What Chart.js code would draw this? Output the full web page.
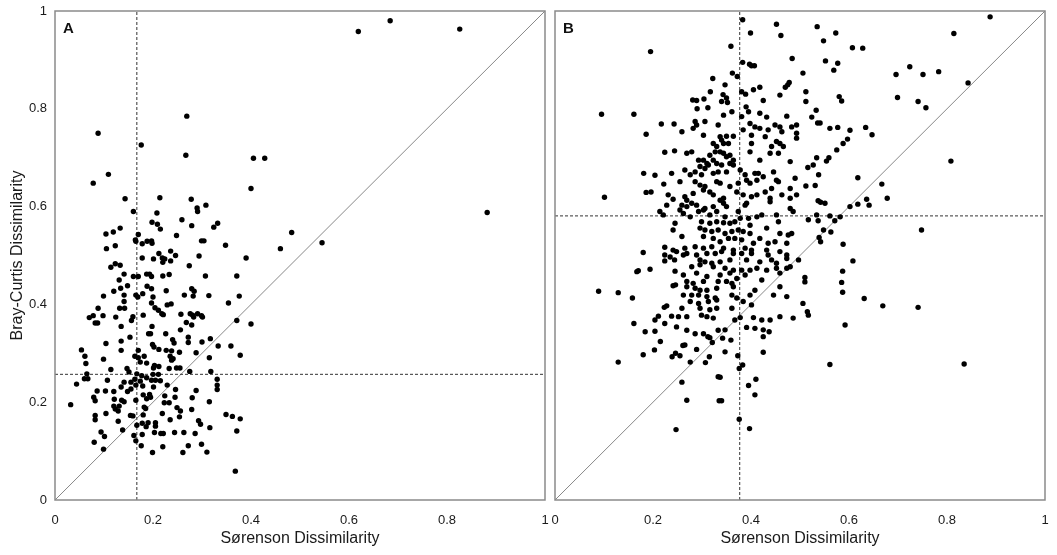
<!DOCTYPE html>
<html>
<head>
<meta charset="utf-8">
<script src="https://cdn.jsdelivr.net/npm/chart.js@4.4.1/dist/chart.umd.min.js"></script>
<style>
    html, body { margin: 0; padding: 0; background: #fff; overflow: hidden; }
    #wrapA { position: absolute; left: 0; top: 0; width: 550px; height: 555px; }
    #wrapB { position: absolute; left: 550px; top: 0; width: 507px; height: 555px; }
</style>
</head>
<body>
<div id="wrapA"><canvas id="chartA"></canvas></div>
<div id="wrapB"><canvas id="chartB"></canvas></div>
<script>
// Etiquetas de los ejes
const tickLabels = ['0', '0.2', '0.4', '0.6', '0.8', '1'];
const xTitle = 'Sørenson Dissimilarity';
const yTitle = 'Bray-Curtis Dissimilarity';

// Medias (líneas discontinuas) por panel: [Sørenson, Bray-Curtis]
const meanA = [0.167, 0.257];
const meanB = [0.377, 0.581];

// Panel A: [Sørenson, Bray-Curtis]
const panelA = [
    [0.269,0.785],[0.088,0.750],[0.176,0.726],[0.267,0.705],[0.109,0.666],[0.078,0.648],[0.214,0.618],[0.143,0.616],
    [0.278,0.615],[0.308,0.603],[0.290,0.597],[0.291,0.590],[0.160,0.590],[0.208,0.587],[0.259,0.573],[0.198,0.568],
    [0.209,0.564],[0.332,0.566],[0.324,0.558],[0.279,0.561],[0.215,0.554],[0.133,0.556],[0.119,0.548],[0.104,0.544],
    [0.170,0.543],[0.248,0.541],[0.164,0.532],[0.165,0.529],[0.188,0.529],[0.197,0.530],[0.198,0.525],[0.178,0.524],
    [0.299,0.530],[0.304,0.530],[0.348,0.521],[0.123,0.520],[0.105,0.514],[0.236,0.509],[0.212,0.504],[0.246,0.500],
    [0.294,0.499],[0.219,0.495],[0.178,0.495],[0.201,0.493],[0.224,0.493],[0.220,0.486],[0.236,0.489],[0.390,0.495],
    [0.123,0.483],[0.133,0.480],[0.114,0.476],[0.274,0.479],[0.141,0.462],[0.160,0.457],[0.170,0.457],[0.187,0.462],
    [0.193,0.462],[0.197,0.457],[0.220,0.458],[0.233,0.461],[0.307,0.458],[0.371,0.458],[0.131,0.450],[0.148,0.438],
    [0.134,0.433],[0.188,0.437],[0.197,0.432],[0.120,0.427],[0.227,0.428],[0.279,0.432],[0.284,0.427],[0.099,0.417],
    [0.141,0.419],[0.165,0.419],[0.179,0.422],[0.169,0.415],[0.200,0.415],[0.264,0.419],[0.282,0.417],[0.314,0.418],
    [0.376,0.417],
    [0.619,0.958],[0.684,0.980],[0.826,0.963],[0.405,0.699],[0.428,0.699],[0.400,0.637],[0.882,0.588],[0.483,0.547],
    [0.460,0.514],[0.545,0.526],[0.400,0.360],
    [0.141,0.406],[0.197,0.403],[0.237,0.401],[0.229,0.399],[0.354,0.403],[0.132,0.392],[0.142,0.392],[0.088,0.392],
    [0.204,0.393],[0.211,0.388],[0.218,0.381],[0.221,0.379],[0.257,0.380],[0.276,0.381],[0.281,0.378],[0.291,0.381],
    [0.299,0.377],[0.283,0.374],[0.301,0.374],[0.371,0.367],[0.070,0.373],[0.078,0.377],[0.098,0.377],[0.124,0.374],
    [0.159,0.375],[0.156,0.367],[0.180,0.378],[0.082,0.362],[0.087,0.362],[0.268,0.363],[0.279,0.358],[0.198,0.355],
    [0.135,0.355],[0.256,0.348],[0.191,0.340],[0.195,0.340],[0.226,0.340],[0.153,0.333],[0.272,0.333],[0.240,0.328],
    [0.243,0.321],[0.317,0.330],[0.272,0.322],[0.300,0.323],[0.135,0.325],[0.104,0.320],[0.199,0.318],[0.212,0.308],
    [0.202,0.313],[0.333,0.315],[0.359,0.315],[0.054,0.307],[0.135,0.306],[0.170,0.306],[0.227,0.306],[0.238,0.305],
    [0.254,0.302],[0.288,0.301],[0.061,0.294],[0.099,0.288],[0.163,0.294],[0.182,0.294],[0.170,0.291],[0.235,0.294],
    [0.238,0.286],[0.241,0.289],[0.315,0.291],[0.378,0.296],[0.063,0.279],[0.174,0.282],[0.187,0.280],[0.203,0.275],
    [0.212,0.273],[0.201,0.270],[0.147,0.269],[0.114,0.267],[0.151,0.262],[0.233,0.269],[0.248,0.270],[0.255,0.270],
    [0.275,0.263],[0.318,0.263],[0.065,0.258],[0.167,0.258],[0.177,0.254],[0.200,0.257],[0.211,0.257],[0.187,0.250],
    [0.060,0.248],[0.067,0.248],[0.163,0.247],[0.107,0.245],[0.331,0.247],[0.141,0.241],[0.155,0.241],[0.174,0.243],
    [0.197,0.245],[0.205,0.245],[0.215,0.244],[0.135,0.231],[0.044,0.237],[0.165,0.235],[0.179,0.233],[0.201,0.231],
    [0.229,0.235],[0.331,0.235],[0.155,0.227],[0.331,0.226],[0.086,0.223],[0.103,0.223],[0.120,0.222],[0.148,0.222],
    [0.180,0.215],[0.193,0.216],[0.246,0.226],[0.224,0.213],[0.288,0.224],[0.079,0.210],[0.121,0.206],[0.136,0.204],
    [0.187,0.207],[0.195,0.210],[0.245,0.210],[0.280,0.209],[0.082,0.203],[0.165,0.204],[0.141,0.201],[0.032,0.195],
    [0.223,0.199],[0.233,0.199],[0.315,0.201],[0.120,0.192],[0.131,0.192],[0.182,0.190],[0.249,0.189],[0.123,0.186],
    [0.185,0.187],[0.279,0.185],[0.129,0.182],[0.104,0.177],[0.219,0.177],[0.256,0.182],[0.082,0.173],[0.154,0.173],
    [0.159,0.172],[0.180,0.174],[0.349,0.175],[0.362,0.171],[0.378,0.166],[0.082,0.164],[0.129,0.161],[0.178,0.157],
    [0.190,0.158],[0.205,0.158],[0.235,0.164],[0.254,0.170],[0.293,0.162],[0.297,0.155],[0.167,0.153],[0.186,0.150],
    [0.205,0.151],[0.316,0.148],[0.138,0.143],[0.094,0.139],[0.203,0.138],[0.216,0.136],[0.221,0.136],[0.244,0.138],
    [0.263,0.138],[0.286,0.136],[0.371,0.141],[0.101,0.130],[0.161,0.132],[0.178,0.134],[0.165,0.121],[0.080,0.118],
    [0.272,0.111],[0.299,0.114],[0.176,0.111],[0.220,0.109],[0.099,0.104],[0.199,0.097],[0.261,0.097],[0.310,0.098],
    [0.368,0.059]
];

// Panel B: [Sørenson, Bray-Curtis]
const panelB = [
    // parte superior izquierda
    [0.195,0.917],[0.095,0.789],[0.161,0.789],[0.322,0.862],[0.317,0.835],[0.281,0.818],[0.289,0.817],[0.304,0.820],
    [0.290,0.800],[0.312,0.802],[0.217,0.769],[0.243,0.769],[0.186,0.748],[0.224,0.711],[0.244,0.714],
    // parte superior central
    [0.383,0.982],[0.452,0.973],[0.399,0.955],[0.461,0.950],[0.535,0.968],[0.573,0.955],[0.548,0.939],[0.607,0.925],
    [0.628,0.924],[0.359,0.928],[0.484,0.903],[0.552,0.898],[0.577,0.893],[0.569,0.879],[0.383,0.895],[0.397,0.891],
    [0.401,0.888],[0.407,0.888],[0.362,0.873],[0.372,0.866],[0.506,0.873],[0.347,0.849],[0.478,0.854],[0.475,0.849],
    [0.470,0.844],[0.405,0.839],[0.418,0.844],[0.381,0.835],[0.389,0.830],[0.512,0.835],[0.459,0.828],[0.343,0.829],
    [0.340,0.815],[0.350,0.822],[0.352,0.813],[0.425,0.817],[0.512,0.815],[0.580,0.825],[0.585,0.816],[0.390,0.804],
    [0.533,0.797],[0.524,0.783],[0.536,0.771],[0.541,0.771],[0.561,0.760],[0.577,0.762],[0.602,0.756],[0.634,0.762],
    [0.647,0.747],[0.597,0.738],[0.588,0.729],[0.575,0.716],[0.534,0.700],[0.554,0.693],[0.559,0.700],[0.516,0.680],
    [0.527,0.685],
    // parte derecha
    [0.888,0.988],[0.814,0.954],[0.724,0.886],[0.696,0.870],[0.751,0.870],[0.783,0.876],[0.843,0.853],[0.699,0.823],
    [0.741,0.815],[0.757,0.802],[0.808,0.693],[0.678,0.617],[0.748,0.552],[0.741,0.394],[0.835,0.278],
    // izquierda media
    [0.181,0.668],[0.204,0.664],[0.238,0.668],[0.222,0.646],[0.101,0.619],[0.186,0.629],[0.196,0.630],[0.231,0.624],
    [0.241,0.615],[0.228,0.603],[0.214,0.590],[0.221,0.583],[0.245,0.566],[0.241,0.552],[0.224,0.517],[0.241,0.511],
    [0.248,0.508],[0.180,0.506],[0.224,0.501],[0.235,0.497],[0.224,0.489],[0.244,0.491],[0.170,0.469],[0.167,0.467],
    [0.194,0.472],[0.245,0.468],[0.241,0.438],[0.246,0.440],[0.089,0.427],[0.129,0.424],[0.158,0.413],[0.228,0.397],
    [0.223,0.394],[0.211,0.376],[0.204,0.368],[0.238,0.376],[0.252,0.375],[0.161,0.361],[0.224,0.361],[0.248,0.354],
    [0.184,0.344],[0.204,0.345],[0.269,0.347],[0.286,0.340],[0.303,0.340],[0.333,0.347],
    // derecha media
    [0.538,0.665],[0.618,0.659],[0.667,0.646],[0.512,0.642],[0.531,0.643],[0.537,0.612],[0.542,0.609],[0.551,0.607],
    [0.636,0.615],[0.641,0.603],[0.618,0.605],[0.602,0.600],[0.534,0.583],[0.561,0.581],[0.582,0.579],[0.517,0.573],
    [0.537,0.571],[0.571,0.571],[0.548,0.552],[0.563,0.548],[0.539,0.537],[0.542,0.528],[0.588,0.523],[0.608,0.489],
    [0.587,0.468],[0.510,0.455],[0.510,0.446],[0.585,0.445],[0.587,0.425],[0.631,0.412],[0.506,0.402],[0.669,0.397],
    [0.515,0.385],[0.517,0.378],[0.592,0.358],[0.391,0.353],[0.408,0.351],[0.425,0.348],[0.437,0.344],[0.347,0.348],
    // núcleo superior
    [0.361,0.794],[0.395,0.794],[0.418,0.791],[0.473,0.785],[0.344,0.787],[0.381,0.784],[0.432,0.783],[0.286,0.774],
    [0.306,0.774],[0.289,0.767],[0.282,0.760],[0.259,0.753],[0.333,0.767],[0.398,0.770],[0.408,0.763],[0.418,0.760],
    [0.449,0.767],[0.459,0.763],[0.483,0.763],[0.493,0.767],[0.384,0.757],[0.435,0.757],[0.463,0.753],[0.303,0.746],
    [0.350,0.744],[0.364,0.744],[0.337,0.743],[0.340,0.736],[0.401,0.746],[0.429,0.743],[0.452,0.733],[0.459,0.729],
    [0.493,0.740],[0.493,0.750],[0.323,0.729],[0.330,0.723],[0.344,0.729],[0.354,0.729],[0.401,0.729],[0.466,0.723],
    [0.442,0.723],[0.439,0.709],[0.456,0.709],[0.269,0.709],[0.279,0.712],[0.293,0.695],[0.303,0.695],[0.316,0.705],
    [0.327,0.712],[0.337,0.712],[0.344,0.709],[0.350,0.702],[0.357,0.705],[0.364,0.695],[0.323,0.695],[0.310,0.688],
    [0.398,0.712],[0.418,0.695],[0.480,0.692],[0.265,0.675],[0.296,0.682],[0.306,0.678],[0.313,0.685],[0.330,0.688],
    [0.340,0.685],[0.357,0.688],[0.364,0.685],[0.276,0.665],[0.286,0.671],[0.299,0.665],[0.323,0.668],[0.333,0.671],
    [0.350,0.671],[0.378,0.675],[0.388,0.665],[0.408,0.668],[0.415,0.668],[0.446,0.671],[0.391,0.654],[0.398,0.648],
    [0.412,0.654],[0.425,0.661],[0.452,0.654],[0.456,0.651],[0.490,0.658],[0.255,0.651],[0.286,0.651],[0.296,0.644],
    [0.306,0.641],[0.330,0.651],[0.337,0.648],[0.357,0.641],[0.374,0.648],[0.429,0.630],[0.442,0.637],[0.480,0.637],
    [0.265,0.620],[0.269,0.613],[0.282,0.627],[0.303,0.634],[0.316,0.630],[0.323,0.624],[0.344,0.617],[0.371,0.630],
    [0.384,0.624],[0.401,0.620],[0.412,0.624],[0.439,0.617],[0.463,0.624],[0.480,0.617],[0.493,0.624],[0.255,0.593],
    [0.259,0.603],[0.269,0.600],[0.279,0.607],[0.289,0.603],[0.306,0.596],[0.323,0.600],[0.337,0.613],[0.344,0.607],
    [0.350,0.600],[0.388,0.603],[0.391,0.607],[0.439,0.610],[0.480,0.596],[0.262,0.586],[0.276,0.579],[0.293,0.590],
    [0.303,0.593],[0.316,0.583],[0.330,0.590],[0.347,0.579],[0.374,0.590],[0.378,0.576],[0.395,0.576],[0.412,0.579],
    [0.422,0.583],[0.452,0.583],[0.486,0.590],
    // núcleo inferior
    [0.299,0.569],[0.316,0.566],[0.330,0.569],[0.344,0.567],[0.357,0.566],[0.367,0.569],[0.398,0.562],[0.432,0.556],
    [0.456,0.569],[0.296,0.556],[0.306,0.552],[0.320,0.549],[0.333,0.552],[0.347,0.545],[0.361,0.549],[0.374,0.552],
    [0.384,0.549],[0.398,0.545],[0.418,0.535],[0.459,0.545],[0.476,0.542],[0.483,0.545],[0.259,0.539],[0.303,0.539],
    [0.323,0.535],[0.337,0.528],[0.354,0.535],[0.367,0.535],[0.381,0.532],[0.405,0.525],[0.435,0.525],[0.449,0.528],
    [0.473,0.525],[0.265,0.515],[0.286,0.518],[0.303,0.515],[0.320,0.518],[0.344,0.515],[0.364,0.511],[0.388,0.515],
    [0.401,0.511],[0.432,0.511],[0.262,0.501],[0.269,0.504],[0.289,0.501],[0.310,0.504],[0.327,0.504],[0.340,0.508],
    [0.364,0.504],[0.381,0.504],[0.401,0.504],[0.435,0.501],[0.459,0.508],[0.473,0.501],[0.296,0.491],[0.306,0.487],
    [0.320,0.484],[0.337,0.487],[0.357,0.491],[0.391,0.491],[0.418,0.487],[0.442,0.491],[0.452,0.484],[0.473,0.494],
    [0.497,0.491],[0.279,0.477],[0.296,0.481],[0.323,0.477],[0.347,0.474],[0.364,0.470],[0.381,0.470],[0.398,0.470],
    [0.412,0.474],[0.432,0.470],[0.452,0.474],[0.473,0.474],[0.480,0.477],[0.262,0.460],[0.289,0.464],[0.310,0.457],
    [0.337,0.460],[0.357,0.464],[0.371,0.453],[0.388,0.460],[0.422,0.450],[0.459,0.464],[0.269,0.447],[0.282,0.443],
    [0.303,0.447],[0.333,0.447],[0.350,0.447],[0.361,0.443],[0.269,0.436],[0.286,0.433],[0.296,0.429],[0.310,0.429],
    [0.330,0.433],[0.364,0.436],[0.408,0.429],[0.459,0.436],[0.262,0.419],[0.279,0.419],[0.293,0.419],[0.310,0.416],
    [0.327,0.413],[0.361,0.419],[0.371,0.413],[0.398,0.419],[0.446,0.419],[0.473,0.416],[0.276,0.406],[0.293,0.402],
    [0.313,0.406],[0.330,0.409],[0.384,0.406],[0.401,0.399],[0.259,0.392],[0.296,0.392],[0.316,0.389],[0.330,0.392],
    [0.361,0.392],[0.269,0.375],[0.299,0.378],[0.310,0.375],[0.323,0.372],[0.367,0.368],[0.378,0.373],[0.405,0.373],
    [0.422,0.368],[0.439,0.368],[0.459,0.375],[0.486,0.372],
    // parte inferior
    [0.129,0.282],[0.180,0.297],[0.203,0.307],[0.215,0.324],[0.239,0.293],[0.246,0.300],[0.255,0.295],[0.261,0.316],
    [0.265,0.317],[0.289,0.308],[0.276,0.282],[0.307,0.281],[0.315,0.293],[0.321,0.322],[0.312,0.334],[0.316,0.332],
    [0.333,0.252],[0.259,0.241],[0.269,0.204],[0.335,0.203],[0.247,0.144],
    [0.342,0.331],[0.359,0.327],[0.425,0.334],[0.347,0.303],[0.425,0.302],[0.373,0.295],[0.561,0.277],[0.376,0.269],
    [0.383,0.276],[0.337,0.251],[0.410,0.247],[0.395,0.234],[0.408,0.215],[0.340,0.203],[0.376,0.165],[0.397,0.146]
];

// Marco gris y letra del panel
const framePlugin = {
    id: 'frame',
    afterDraw(chart, args, opts) {
        const { ctx, chartArea: a } = chart;
        ctx.save();
        ctx.strokeStyle = '#8a8a8a';
        ctx.lineWidth = 1.5;
        ctx.strokeRect(a.left, a.top, a.right - a.left, a.bottom - a.top);
        ctx.fillStyle = '#111';
        ctx.font = 'bold 15px "Liberation Sans", Arial, sans-serif';
        ctx.textBaseline = 'alphabetic';
        ctx.fillText(opts.letter, a.left + 8, a.top + 22);
        ctx.restore();
    }
};

function makeChart(id, points, mean, letter, showY) {
    const ctx = document.getElementById(id).getContext('2d');
    const tickFont = { family: '"Liberation Sans", Arial, sans-serif', size: 13 };
    const titleFont = { family: '"Liberation Sans", Arial, sans-serif', size: 16 };
    return new Chart(ctx, {
        type: 'scatter',
        data: {
            datasets: [
                {
                    data: points.map(p => ({ x: p[0], y: p[1] })),
                    backgroundColor: '#000',
                    borderWidth: 0,
                    pointRadius: 2.7,
                    pointHoverRadius: 2.7
                },
                {
                    type: 'line',
                    data: [{ x: mean[0], y: 0 }, { x: mean[0], y: 1 }],
                    borderColor: '#333',
                    borderWidth: 1,
                    borderDash: [3, 2],
                    pointRadius: 0
                },
                {
                    type: 'line',
                    data: [{ x: 0, y: mean[1] }, { x: 1, y: mean[1] }],
                    borderColor: '#333',
                    borderWidth: 1,
                    borderDash: [3, 2],
                    pointRadius: 0
                },
                {
                    type: 'line',
                    data: [{ x: 0, y: 0 }, { x: 1, y: 1 }],
                    borderColor: '#888',
                    borderWidth: 1,
                    pointRadius: 0
                }
            ]
        },
        options: {
            responsive: true,
            maintainAspectRatio: false,
            animation: false,
            layout: {
                padding: showY ? { top: 11, right: 5, left: 0, bottom: 0 } : { top: 11, right: 12, left: 5, bottom: 0 }
            },
            plugins: {
                legend: { display: false },
                tooltip: { enabled: false },
                frame: { letter: letter }
            },
            scales: {
                x: {
                    type: 'linear',
                    min: 0,
                    max: 1,
                    grid: { display: false, drawTicks: false },
                    border: { display: false },
                    ticks: {
                        stepSize: 0.2,
                        autoSkip: false,
                        maxRotation: 0,
                        padding: 13,
                        color: '#1a1a1a',
                        font: tickFont,
                        callback: (v, i) => tickLabels[i]
                    },
                    title: {
                        display: true,
                        text: xTitle,
                        color: '#1a1a1a',
                        font: titleFont,
                        padding: { top: 0, bottom: 7 }
                    },
                    afterFit: s => {
                        s.height = 55;
                        s.paddingLeft = 0;
                        s.paddingRight = 0;
                    }
                },
                y: {
                    type: 'linear',
                    display: showY,
                    min: 0,
                    max: 1,
                    grid: { display: false, drawTicks: false },
                    border: { display: false },
                    ticks: {
                        stepSize: 0.2,
                        autoSkip: false,
                        padding: 8,
                        color: '#1a1a1a',
                        font: tickFont,
                        callback: (v, i) => tickLabels[i]
                    },
                    title: {
                        display: true,
                        text: yTitle,
                        color: '#1a1a1a',
                        font: titleFont,
                        padding: { top: 8, bottom: 0 }
                    },
                    afterFit: s => {
                        if (!showY) return;
                        s.width = 55;
                        s.paddingTop = 0;
                        s.paddingBottom = 0;
                    }
                }
            }
        },
        plugins: [framePlugin]
    });
}

makeChart('chartA', panelA, meanA, 'A', true);
makeChart('chartB', panelB, meanB, 'B', false);
</script>
</body>
</html>
